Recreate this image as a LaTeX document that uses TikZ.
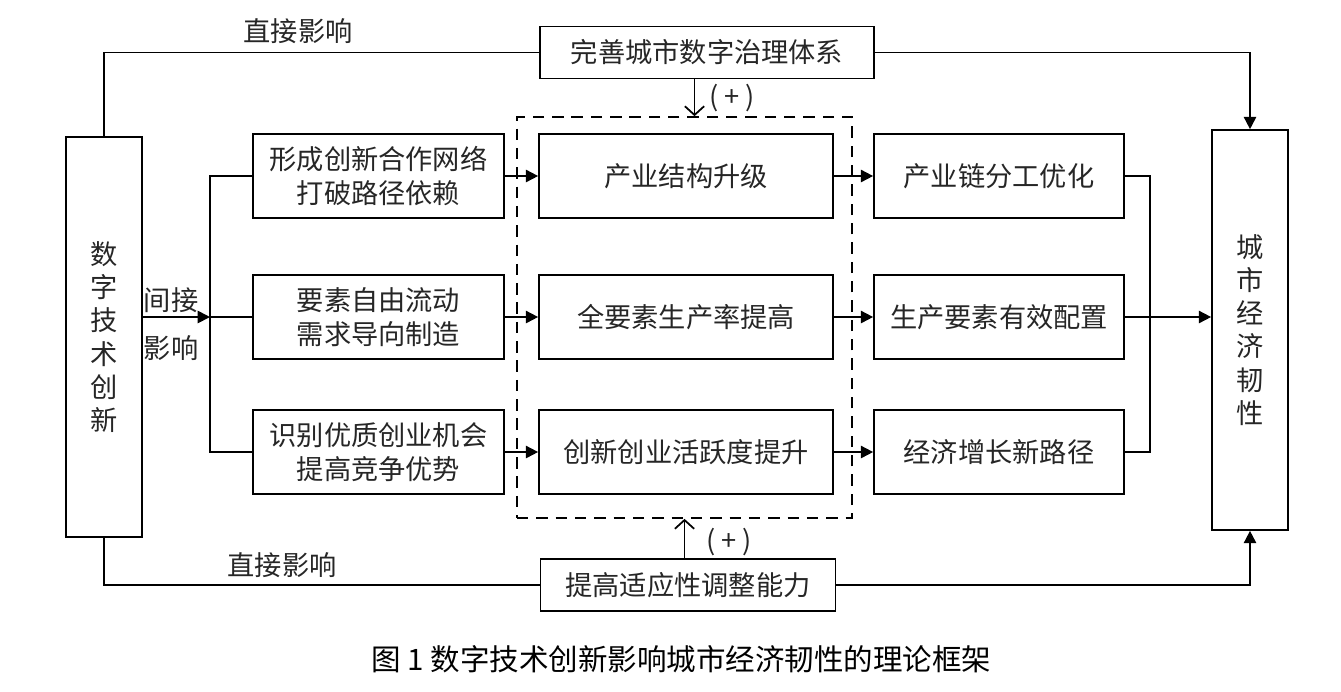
\documentclass[tikz,border=0pt]{standalone}
\usepackage{fontspec}
\setmainfont{Noto Sans CJK SC}
\usepackage{tikz}
\usetikzlibrary{arrows.meta}
\newcommand{\widthmech}{5.02cm}
\newcommand{\widthmid}{5.88cm}
\newcommand{\widthout}{5cm}
\newcommand{\heightrow}{1.68cm}
\newcommand{\bodyfont}{\fontsize{15.5}{19.5}\selectfont}
\tikzset{
    common/.style={draw, rectangle, line width=1pt, align=center, inner sep=2pt, text=black!85, font=\bodyfont},
    mech/.style={common, minimum width=\widthmech, minimum height=\heightrow},
    mid/.style={common, minimum width=\widthmid, minimum height=\heightrow},
    outbox/.style={common, minimum width=\widthout, minimum height=\heightrow},
    side/.style={common, minimum width=1.52cm, minimum height=8cm, font=\fontsize{15.5}{18.9}\selectfont},
    cond/.style={common, minimum height=1.04cm},
    frame/.style={draw, dash pattern=on 6.5pt off 4.5pt, line width=1pt, minimum width=6.7cm, minimum height=8.02cm},
    txt/.style={inner sep=0pt, text=black!85, font=\bodyfont},
    link/.style={line width=1pt},
    arr/.style={link, -{Triangle[length=7pt, width=7pt]}},
    plus/.style={link, -{Straight Barb[length=5pt, width=11pt]}}
}

\begin{document}
\begin{tikzpicture}[x=0.02cm, y=-0.02cm]
      \useasboundingbox (0,0) rectangle (1341,691);

      % both ends
      \node[side] (innov) at (104,337) {数\\字\\技\\术\\创\\新};
      \node[side] (resil) at (1250,330) {城\\市\\经\\济\\韧\\性};

      % conditions above and below
      \node[cond, minimum width=6.68cm] (govern) at (707,52.5) {完善城市数字治理体系};
      \node[cond, minimum width=5.9cm] (adapt) at (688,585) {提高适应性调整能力};

      \node[frame] (frame) at (684.5,317.5) {};

      \node[mech] (mech-a) at (378.5,176) {形成创新合作网络\\打破路径依赖};
      \node[mech] (mech-b) at (378.5,317) {要素自由流动\\需求导向制造};
      \node[mech] (mech-c) at (378.5,452) {识别优质创业机会\\提高竞争优势};

      \node[mid] (mid-a) at (686,176) {产业结构升级};
      \node[mid] (mid-b) at (686,317) {全要素生产率提高};
      \node[mid] (mid-c) at (686,452) {创新创业活跃度提升};

      \node[outbox] (out-a) at (999,176) {产业链分工优化};
      \node[outbox] (out-b) at (999,317) {生产要素有效配置};
      \node[outbox] (out-c) at (999,452) {经济增长新路径};

      \coordinate (split) at (210,317);
      \coordinate (merge) at (1150,317);

      % indirect paths
      \draw[arr] (innov.east |- split) -- (split);
      \draw[link] (mech-a.west) -| (split) |- (mech-c.west) (split) -- (mech-b.west);
      \draw[arr] (mech-a.east) -- (mid-a.west);
      \draw[arr] (mech-b.east) -- (mid-b.west);
      \draw[arr] (mech-c.east) -- (mid-c.west);
      \draw[arr] (mid-a.east) -- (out-a.west);
      \draw[arr] (mid-b.east) -- (out-b.west);
      \draw[arr] (mid-c.east) -- (out-c.west);
      \draw[link] (out-a.east) -| (merge) |- (out-c.east);
      \draw[arr] (out-b.east) -- (resil.west |- out-b);

      % direct paths
      \draw[link] (innov.north) |- (govern.west);
      \draw[arr] (govern.east) -| (resil.north);
      \draw[link] (innov.south) |- (adapt.west);
      \draw[arr] (adapt.east) -| (resil.south);

      \draw[plus] ([xshift=0.2cm]govern.south -| frame.north) -- node[txt, right=8pt] (plus-top) {( + )} ([xshift=0.2cm]frame.north);
      \draw[plus] (adapt.north -| frame.south) -- node[txt, right=12pt, yshift=-2pt] (plus-bot) {( + )} (frame.south);

      \node[txt] (direct-top) at (298,31) {直接影响};
      \node[txt] (direct-bot) at (282,565) {直接影响};
      \node[txt] (indirect-a) at (171,300) {间接};
      \node[txt] (indirect-b) at (171,348) {影响};

      \node[txt, text=black, font=\fontsize{16.8}{20}\selectfont] (caption) at (681.5,659) {图 1 数字技术创新影响城市经济韧性的理论框架};
\end{tikzpicture}
\end{document}
